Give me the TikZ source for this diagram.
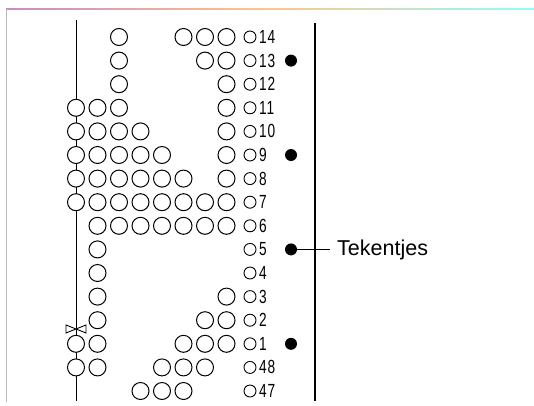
\documentclass[tikz,border=0pt]{standalone}
\usepackage{fontspec}
\setmainfont{Liberation Sans}
\newfontfamily\numfont[FakeStretch=0.72,LetterSpace=4]{Liberation Sans}
\begin{document}
\begin{tikzpicture}[x=1pt,y=-1pt,
  big/.style={circle,draw,fill=white,line width=1pt,minimum size=17pt,inner sep=0pt},
  small/.style={circle,draw,fill=white,line width=0.9pt,minimum size=12pt,inner sep=0pt},
  blackdot/.style={circle,fill=black,minimum size=12pt,inner sep=0pt},
  num/.style={anchor=west,inner sep=0pt,font=\numfont\fontsize{19}{19}\selectfont},
  rule/.style={line width=1pt},
  frameline/.style={line width=1pt,draw=gray!55}]
\useasboundingbox (0,0) rectangle (534,405);
\fill[white] (0,0) rectangle (534,405);
% frame
\shade[left color=violet!45,right color=cyan!45,middle color=orange!45] (6,8.4) rectangle (534,9.6);
\draw[frameline] (6,9) -- (6,402);
% left vertical line
\coordinate (ltop) at (76,20);
\coordinate (lbot) at (76,401);
\draw[rule] (ltop) -- (lbot);
% right vertical line
\coordinate (rtop) at (315,23);
\coordinate (rbot) at (315,401);
\draw[line width=1.7pt] (rtop) -- (rbot);
% rows
\foreach \k/\lab/\cols in {
  0/14/{2,5,6,7},
  1/13/{2,6,7},
  2/12/{2,7},
  3/11/{0,1,2,7},
  4/10/{0,1,2,3,7},
  5/9/{0,1,2,3,4,7},
  6/8/{0,1,2,3,4,5,7},
  7/7/{0,1,2,3,4,5,6,7},
  8/6/{1,2,3,4,5,6,7},
  9/5/{1},
  10/4/{1},
  11/3/{1,7},
  12/2/{1,6,7},
  13/1/{0,1,5,6,7},
  14/48/{0,1,4,5,6},
  15/47/{3,4,5}}{
  \pgfmathsetmacro{\yy}{37+23.6*\k}
  \foreach \c in \cols {
    \node[big] (b-\k-\c) at ({76+21.5*\c},\yy) {};
  }
  \node[small] (s-\k) at (250,\yy) {};
  \node[num] (n-\k) at (259,\yy) {\lab};
}
% bowtie
\draw[line width=0.9pt,fill=white] (66,325) -- (86,333) -- (86,325) -- (66,333) -- cycle;
% black dots
\node[blackdot] (d13) at (291,60.6) {};
\node[blackdot] (d9) at (291,155) {};
\node[blackdot] (d5) at (291,249.4) {};
\node[blackdot] (d1) at (291,343.8) {};
% label
\node[anchor=base west,inner sep=0pt,font=\fontsize{21.5}{21.5}\selectfont] (tek) at (337,255) {Tekentjes};
\coordinate (tekend) at (330,249.4);
\draw[rule] (d5) -- (tekend);
\end{tikzpicture}
\end{document}
